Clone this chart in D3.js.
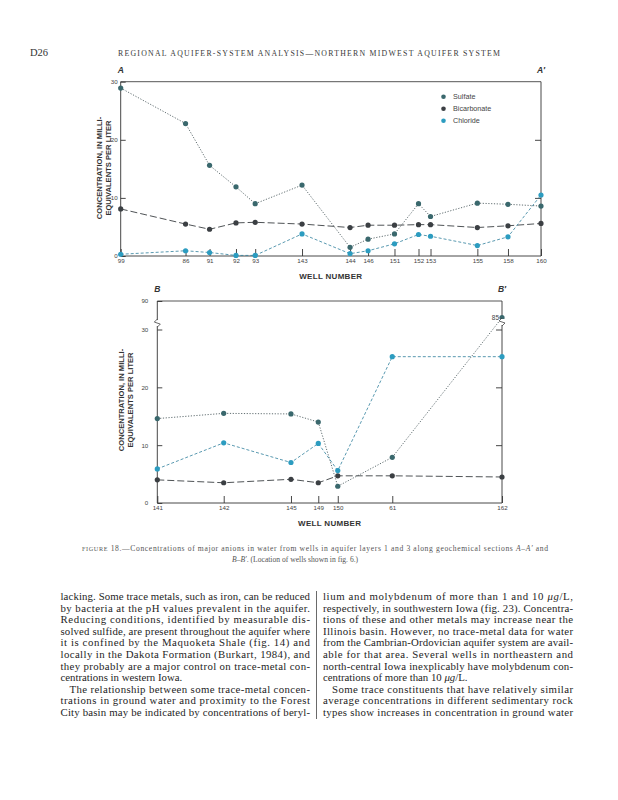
<!DOCTYPE html>
<html><head><meta charset="utf-8">
<script src="https://cdn.jsdelivr.net/npm/d3@7"></script>
<style>
body{margin:0;background:#fff}
svg{display:block}
.ax path,.ax line{stroke:#333;stroke-width:0.9}
.ax text{font-family:"Liberation Sans",Arial,sans-serif;font-size:6.2px;fill:#444}
</style>
</head><body>
<script>
// ---------- DATA ----------
const seriesNames = ["Sulfate","Bicarbonate","Chloride"];
const seriesColors = ["#3a686d","#3b3f43","#2c9cc0"];

const wellsA = ["99","86","91","92","93","143","144","146","151","152","153","155","158","160"];
const distA = [0,54,74,96,112,151,191,206,228,248,258,297,322.5,350];
const sulfateA = [28.9,22.8,15.6,11.9,9.0,12.2,1.5,2.9,3.8,9.0,6.8,9.1,8.9,8.6];
const bicarbA = [8.1,5.5,4.6,5.7,5.8,5.5,4.9,5.3,5.3,5.4,5.4,4.9,5.2,5.6];
const chlorideA = [0.3,0.9,0.6,0.1,0.1,3.8,0.4,0.9,2.1,3.7,3.4,1.8,3.3,10.5];
const ticksA = [0,10,20,30];

const wellsB = ["141","142","145","149","150","61","162"];
const distB = [0,55.2,111.1,133.8,150,195.3,286.5];
const sulfateB = [14.6,15.5,15.4,14.0,2.9,7.9,85];
const bicarbB = [4.0,3.5,4.1,3.5,4.7,4.7,4.5];
const chlorideB = [5.9,10.4,7.0,10.3,5.6,25.3,25.3];
const ticksB = [0,10,20,30,90];

const leftColumn = [
 "lacking. Some trace metals, such as iron, can be reduced",
 "by bacteria at the pH values prevalent in the aquifer.",
 "Reducing conditions, identified by measurable dis-",
 "solved sulfide, are present throughout the aquifer where",
 "it is confined by the Maquoketa Shale (fig. 14) and",
 "locally in the Dakota Formation (Burkart, 1984), and",
 "they probably are a major control on trace-metal con-",
 "centrations in western Iowa.",
 "The relationship between some trace-metal concen-",
 "trations in ground water and proximity to the Forest",
 "City basin may be indicated by concentrations of beryl-"
];
const rightColumn = [
 "lium and molybdenum of more than 1 and 10 \u03BCg/L,",
 "respectively, in southwestern Iowa (fig. 23). Concentra-",
 "tions of these and other metals may increase near the",
 "Illinois basin. However, no trace-metal data for water",
 "from the Cambrian-Ordovician aquifer system are avail-",
 "able for that area. Several wells in northeastern and",
 "north-central Iowa inexplicably have molybdenum con-",
 "centrations of more than 10 \u03BCg/L.",
 "Some trace constituents that have relatively similar",
 "average concentrations in different sedimentary rock",
 "types show increases in concentration in ground water"
];
const paraEnds = [7];      // last line of a paragraph (not justified)
const paraStarts = [8];    // indented first lines

// ---------- DRAW ----------
const W = 618, H = 800;
const svg = d3.select("body").append("svg").attr("width",W).attr("height",H);
const sans = '"Liberation Sans",Arial,sans-serif';
const serif = '"Liberation Serif","Times New Roman",serif';

// header
svg.append("text").attr("x",30).attr("y",56).attr("font-family",serif)
  .attr("font-size",10.5).attr("fill","#333").text("D26");
svg.append("text").attr("x",118).attr("y",56).attr("font-family",serif)
  .attr("font-size",7.8).attr("fill","#3a3a3a").attr("textLength",382).attr("lengthAdjust","spacing")
  .text("REGIONAL AQUIFER-SYSTEM ANALYSIS\u2014NORTHERN MIDWEST AQUIFER SYSTEM");

function drawChart(cfg){
  const g = svg.append("g");
  const x = d3.scaleLinear().domain(cfg.xDomain).range([cfg.left, cfg.right]);
  const y = cfg.y;
  g.append("line").attr("x1",cfg.left).attr("x2",cfg.right).attr("y1",cfg.top).attr("y2",cfg.top)
    .attr("stroke","#444").attr("stroke-width",0.9);
  g.append("g").attr("class","ax").attr("transform",`translate(${cfg.left},0)`)
    .call(d3.axisLeft(y).tickValues(cfg.yTicks).tickSize(-5).tickPadding(cfg.yPad).tickFormat(d3.format("d")))
    .call(a=>a.select(".domain").attr("d",`M0,${cfg.bottom}V${cfg.top}`))
    .call(a=>a.selectAll(".tick line").attr("stroke","#888"));
  g.append("g").attr("class","ax").attr("transform",`translate(${cfg.right},0)`)
    .call(d3.axisRight(y).tickValues(cfg.yTicks.filter(v=>v>0 && v<cfg.yTicks[cfg.yTicks.length-1])).tickSize(-6).tickFormat(""))
    .call(a=>a.select(".domain").attr("d",`M0,${cfg.bottom}V${cfg.top}`));
  g.append("g").attr("class","ax").attr("transform",`translate(0,${cfg.bottom})`)
    .call(d3.axisBottom(x).tickValues(cfg.dist).tickSize(-7).tickPadding(3).tickFormat((d,i)=>cfg.wells[i]))
    .call(a=>a.select(".domain").attr("d",`M${cfg.left},0H${cfg.right}`));
  g.append("text").attr("x",cfg.left).attr("y",cfg.top-9).attr("text-anchor","middle")
    .attr("font-family",sans).attr("font-size",8.5).attr("font-weight","bold").attr("font-style","italic")
    .attr("fill","#333").text(cfg.letter);
  g.append("text").attr("x",cfg.right).attr("y",cfg.top-9).attr("text-anchor","middle")
    .attr("font-family",sans).attr("font-size",8.5).attr("font-weight","bold").attr("font-style","italic")
    .attr("fill","#333").text(cfg.letter+"\u2032");
  g.append("text").attr("x",(cfg.left+cfg.right)/2).attr("y",cfg.bottom+23).attr("text-anchor","middle")
    .attr("font-family",sans).attr("font-size",8).attr("font-weight","bold").attr("fill","#333")
    .attr("letter-spacing",0.3).text("WELL NUMBER");
  const yt = g.append("text").attr("transform",`translate(${cfg.ytx},${cfg.yty}) rotate(-90)`)
    .attr("text-anchor","middle").attr("font-family",sans).attr("font-size",7.6)
    .attr("font-weight","bold").attr("fill","#333");
  yt.append("tspan").attr("x",0).attr("dy",0).text("CONCENTRATION, IN MILLI-");
  yt.append("tspan").attr("x",0).attr("dy",8.6).text("EQUIVALENTS PER LITER");

  const styles = [
    {dash:"1.2,1.6", stroke:"#3a4a4e", w:0.8},
    {dash:"7,3", stroke:"#3b3f43", w:0.9},
    {dash:"3,2", stroke:"#2f7f9c", w:0.8}
  ];
  cfg.series.forEach((vals,si)=>{
    const pts = vals.map((v,i)=>[x(cfg.dist[i]), y(v)]);
    g.append("path").attr("d",d3.line()(pts)).attr("fill","none")
      .attr("stroke",styles[si].stroke).attr("stroke-width",styles[si].w)
      .attr("stroke-dasharray",styles[si].dash);
  });
  cfg.series.forEach((vals,si)=>{
    g.selectAll(null).data(vals).enter().append("circle")
      .attr("cx",(v,i)=>x(cfg.dist[i])).attr("cy",v=>y(v)).attr("r",2.6)
      .attr("fill",seriesColors[si]);
  });
  return {g,x,y};
}

// Chart A
const yA = d3.scaleLinear().domain([0,30]).range([256,81.7]);
const A = drawChart({letter:"A", left:120.7, right:541, top:81.7, bottom:256,
  xDomain:[0,350], dist:distA, wells:wellsA, y:yA, yTicks:ticksA, yPad:3,
  ytx:102, yty:168, series:[sulfateA,bicarbA,chlorideA]});
seriesNames.forEach((n,i)=>{
  const yy = 96.7 + i*12;
  A.g.append("circle").attr("cx",443.5).attr("cy",yy).attr("r",2.3).attr("fill",seriesColors[i]);
  A.g.append("text").attr("x",453).attr("y",yy+2.5).attr("font-family",sans).attr("font-size",7.2)
    .attr("fill","#444").text(n);
});

// Chart B (broken axis above 30)
const yB = d3.scaleLinear().domain([0,30,85,90]).range([503,329.5,317.7,301]);
const B = drawChart({letter:"B", left:157.3, right:502, top:301, bottom:503,
  xDomain:[0,286.5], dist:distB, wells:wellsB, y:yB, yTicks:ticksB, yPad:9,
  ytx:124, yty:400, series:[sulfateB,bicarbB,chlorideB]});
[[157.3,yB(60)],[502,yB(65)]].forEach(([bx,by])=>{
  B.g.append("rect").attr("x",bx-3).attr("y",by-3).attr("width",6).attr("height",6).attr("fill","#fff");
  B.g.append("path").attr("d",`M${bx},${by-4}L${bx-3},${by-1}L${bx+3},${by+1}L${bx},${by+4}`)
    .attr("fill","none").attr("stroke","#444").attr("stroke-width",0.8);
});
B.g.append("text").attr("x",499).attr("y",yB(85)+2).attr("text-anchor","end")
  .attr("font-family",sans).attr("font-size",6.5).attr("fill","#444").text("85");

// caption
const cap = svg.append("text").attr("x",82).attr("y",551).attr("font-family",serif)
  .attr("font-size",7.6).attr("fill","#555").attr("textLength",466).attr("lengthAdjust","spacing");
cap.append("tspan").attr("font-size",6.2).text("FIGURE");
cap.append("tspan").text(" 18.\u2014Concentrations of major anions in water from wells in aquifer layers 1 and 3 along geochemical sections ");
cap.append("tspan").attr("font-style","italic").text("A\u2013A\u2032");
cap.append("tspan").text(" and");
const cap2 = svg.append("text").attr("x",232).attr("y",562).attr("font-family",serif)
  .attr("font-size",7.6).attr("fill","#555");
cap2.append("tspan").attr("font-style","italic").text("B\u2013B\u2032");
cap2.append("tspan").text(". (Location of wells shown in fig. 6.)");

// body text columns
function column(lines, x0, x1){
  lines.forEach((t,i)=>{
    const indent = paraStarts.includes(i) ? 9 : 0;
    const tx = svg.append("text").attr("x",x0+indent).attr("y",600 + i*11.6)
      .attr("font-family",serif).attr("font-size",10.8).attr("fill","#1e1e1e");
    if(!paraEnds.includes(i)) tx.attr("textLength",x1-x0-indent).attr("lengthAdjust","spacing");
    const parts = t.split("\u03BCg");
    parts.forEach((p,k)=>{
      tx.append("tspan").text(p);
      if(k<parts.length-1) tx.append("tspan").attr("font-style","italic").text("\u03BCg");
    });
  });
}
column(leftColumn, 60.5, 310);
column(rightColumn, 323, 573);
svg.append("line").attr("x1",316.5).attr("x2",316.5).attr("y1",591).attr("y2",719)
  .attr("stroke","#444").attr("stroke-width",0.8);
</script>
</body></html>
